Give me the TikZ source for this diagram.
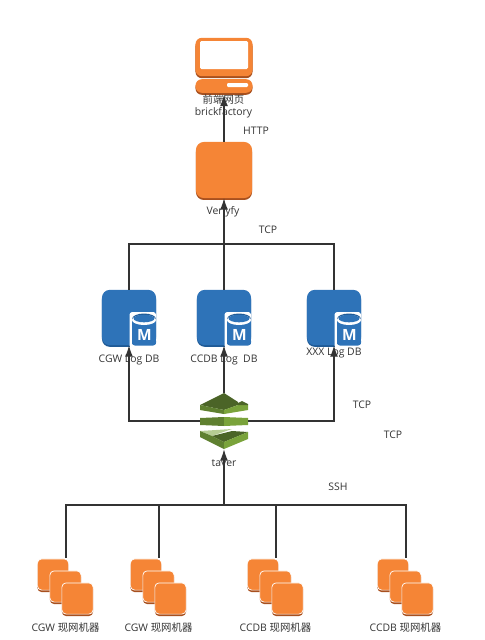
\documentclass[tikz,border=0pt]{standalone}
\usepackage{fontspec}
\setmainfont{Open Sans}
\newfontfamily\cjk{Noto Sans CJK SC}
\usetikzlibrary{arrows.meta,shadows}
\definecolor{awsorange}{HTML}{F58536}
\definecolor{awsorangedk}{HTML}{A8501E}
\definecolor{awsblue}{HTML}{2E73B8}
\definecolor{awsbluedk}{HTML}{1F5A96}
\definecolor{awsgreen}{HTML}{7AA33B}
\definecolor{awsgreenmd}{HTML}{5F8030}
\definecolor{awsgreendk}{HTML}{4B6427}
\definecolor{linegray}{HTML}{333333}
\begin{document}
\begin{tikzpicture}[
  x=0.025cm, y=-0.025cm,
  label/.style={font=\fontsize{7.4}{8.9}\selectfont, text=linegray, align=center, inner sep=0pt},
  flow/.style={draw=linegray, line width=0.85pt},
  arrow/.style={flow, -{Latex[length=8pt,width=5.6pt]}},
  ec2box/.style={rectangle, rounded corners=4.5pt, fill=awsorange, inner sep=0pt,
    general shadow={fill=awsorangedk, shadow yshift=-1.4pt}},
  srvbox/.style={ec2box, minimum size=0.78cm, draw=white, line width=0.5pt, rounded corners=3pt},
  dbbox/.style={rectangle, rounded corners=5.5pt, fill=awsblue, inner sep=0pt,
    minimum width=1.35cm, minimum height=1.38cm,
    general shadow={fill=awsbluedk, shadow yshift=-1.2pt}},
  groupbox/.style={rectangle, inner sep=0pt},
]
  \useasboundingbox (0,0) rectangle (485,640);

  % browser
  \node[groupbox, minimum width=1.425cm, minimum height=1.425cm] (page) at (224,66) {};
  \node[ec2box, minimum width=1.425cm, minimum height=0.96cm] (screen) at (224,57) {};
  \fill[white, rounded corners=1pt] (200,41) rectangle (248,69);
  \node[ec2box, minimum width=1.425cm, minimum height=0.34cm] (keys) at (224,86) {};
  \fill[white, rounded corners=0.8pt] (227,83) rectangle (248,87);
  \node[ec2box, minimum width=1.4cm, minimum height=1.4cm, rounded corners=5.5pt] (verify) at (224,170) {};

  % log databases
  \foreach \n/\x in {logcgw/129, logccdb/224, logxxx/334} {
    \node[dbbox] (\n) at (\x,317.5) {};
    \begin{scope}[shift={(\x,0)}]
      \fill[white, rounded corners=2pt] (0.5,312) rectangle (27,348);
      \fill[awsblue] (3,319) rectangle (27,344);
      \fill[awsblue, rounded corners=2pt] (3,338) rectangle (27,345.5);
      \fill[awsbluedk] (15,319) ellipse [x radius=12, y radius=5.5];
      \fill[white] (15,320) ellipse [x radius=12, y radius=5];
      \fill[awsblue] (15,318.5) ellipse [x radius=10.5, y radius=3.8];
      \node[font=\fontsize{11}{11}\selectfont\bfseries, text=white, inner sep=0pt] at (15.5,335) {M};
    \end{scope}
  }

  % taver
  \node[groupbox, minimum width=1.2cm, minimum height=1.4cm] (taver) at (224,421) {};
  \fill[awsgreendk] (224,393) -- (200,405) -- (224,410) -- (238,405) -- (238,402) -- cycle;
  \fill[awsgreenmd] (200,405) -- (224,410) -- (224,414) -- (200,410) -- cycle;
  \fill[awsgreen] (224,410) -- (238,405) -- (248,405) -- (248,410) -- (224,414) -- cycle;
  \fill[awsgreendk] (238,403) -- (242,401) -- (248,404) -- (248,405) -- (238,405) -- cycle;
  \fill[awsgreenmd] (200,418) -- (224,417) -- (224,426) -- (200,425) -- cycle;
  \fill[awsgreen] (224,417) -- (248,418) -- (248,425) -- (224,426) -- cycle;
  \fill[awsgreen!55] (200,431) -- (232,429) -- (212,436) -- cycle;
  \fill[awsgreenmd] (200,431) -- (212,436) -- (212,443) -- (200,437) -- cycle;
  \fill[awsgreendk] (212,436) -- (232,431) -- (248,432) -- (224,442) -- cycle;
  \fill[awsgreenmd] (212,436) -- (224,442) -- (224,449) -- (212,443) -- cycle;
  \fill[awsgreen] (224,442) -- (248,432) -- (248,439) -- (224,449) -- cycle;

  % labels sit under the arrows
  \node[label] (pagelbl)   at (223.5,106.5) {{\cjk 前端网页}\\brickfactory};
  \node[label] (verifylbl) at (223,212) {Veriyfy};
  \node[label] (cgwlbl)    at (129,360) {CGW Log DB};
  \node[label] (ccdblbl)   at (224,360) {CCDB Log\ \ DB};
  \node[label] (xxxlbl)    at (334,353) {XXX Log DB};
  \node[label] (taverlbl)  at (224,463) {taver};
  \node[label] (httplbl)   at (256,131) {HTTP};
  \node[label] (tcpa)      at (268,230) {TCP};
  \node[label] (tcpb)      at (362,404.5) {TCP};
  \node[label] (tcpc)      at (393,435) {TCP};
  \node[label] (sshlbl)    at (338,487) {SSH};

  % machines
  \foreach \n/\x/\t in {a/66/CGW, b/159/CGW, c/276/CCDB, d/406/CCDB} {
    \node[srvbox] (\n1) at (\x-13,574.5) {};
    \node[srvbox] (\n2) at (\x-0.5,586.5) {};
    \node[srvbox] (\n3) at (\x+11.5,598.5) {};
    \coordinate (top\n) at (\x,558);
    \node[label] (lbl\n) at (\x-0.5,628) {\t\ {\cjk 现网机器}};
  }

  \coordinate (busdb) at (224,244);
  \coordinate (bussrv) at (224,505);

  \draw[arrow] (verify.north) -- (page.south);
  \draw[arrow] (busdb) -- (verify.south);
  \draw[flow] (busdb) -- (logccdb.north);
  \draw[flow] (busdb) -| (logcgw.north);
  \draw[flow] (busdb) -| (logxxx.north);
  \draw[arrow] (taver.north) -- (logccdb.south);
  \draw[arrow] (taver.west) -| (logcgw.south);
  \draw[arrow] (taver.east) -| (logxxx.south);
  \draw[arrow] (bussrv) -- (taver.south);
  \draw[flow] (bussrv) -| (topa);
  \draw[flow] (bussrv) -| (topb);
  \draw[flow] (bussrv) -| (topc);
  \draw[flow] (bussrv) -| (topd);
\end{tikzpicture}
\end{document}
